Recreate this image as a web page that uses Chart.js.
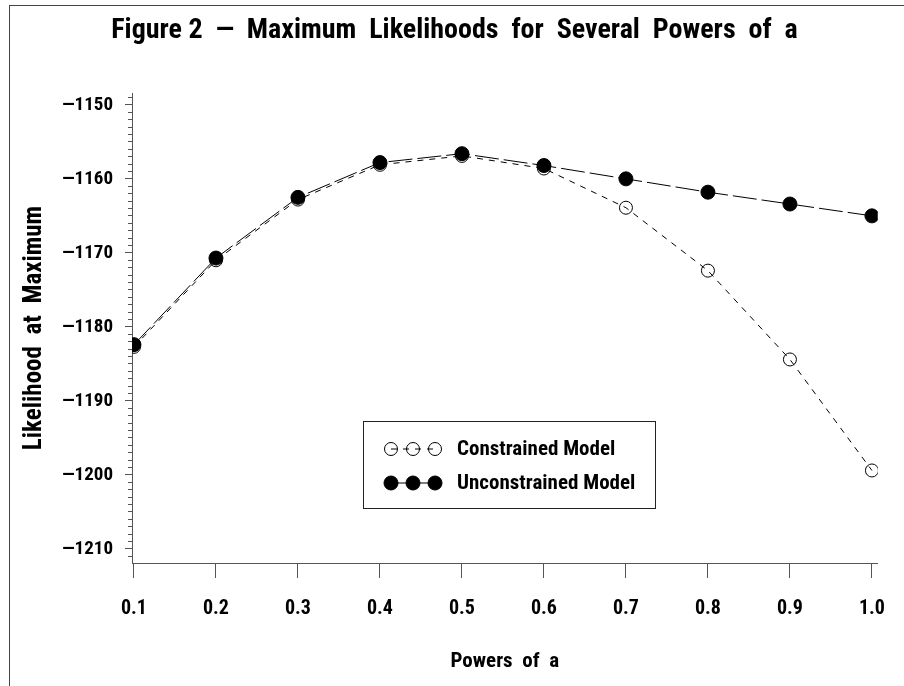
<!DOCTYPE html>
<html>
<head>
<meta charset="utf-8">
<script src="https://cdn.jsdelivr.net/npm/chart.js@4/dist/chart.umd.min.js"></script>
<style>
  html, body { margin: 0; padding: 0; background: #fff; }
  #wrap { width: 904px; height: 686px; position: relative; }
</style>
</head>
<body>
<div id="wrap"><canvas id="c" width="904" height="686"></canvas></div>
<script>
// Powers of a and the maximised log-likelihood for each model
const powers = [0.1, 0.2, 0.3, 0.4, 0.5, 0.6, 0.7, 0.8, 0.9, 1.0];
const constrained = [-1182.7, -1171.0, -1162.8, -1158.1, -1156.9, -1158.6, -1163.9, -1172.4, -1184.4, -1199.4];
const unconstrained = [-1182.4, -1170.7, -1162.5, -1157.8, -1156.6, -1158.2, -1160.0, -1161.8, -1163.4, -1165.0];

// Axis tick values and their printed labels
const xTickLabels = ['0.1', '0.2', '0.3', '0.4', '0.5', '0.6', '0.7', '0.8', '0.9', '1.0'];
const yMajorTicks = [-1150, -1160, -1170, -1180, -1190, -1200, -1210];
const yTickLabels = ['\u20141150', '\u20141160', '\u20141170', '\u20141180', '\u20141190', '\u20141200', '\u20141210'];

const seriesNames = ['Constrained Model', 'Unconstrained Model'];

const FONT = "'Roboto Condensed', 'Open Sans Condensed', 'Liberation Sans', Arial, sans-serif";
const Y_MIN = -1211.9, Y_MAX = -1148.4;

function toPoints(ys) {
  return powers.map((p, i) => ({ x: p, y: ys[i] }));
}

// whole-unit minor tick positions along the likelihood axis
const yMinorTicks = [];
for (let v = Math.ceil(Y_MIN); v <= Math.floor(Y_MAX); v++) yMinorTicks.push(v);

const styles = [
  { dash: [6, 6], radius: 6.5, fill: 'rgba(0,0,0,0)' },
  { dash: [24, 5], radius: 7, fill: '#000' }
];

// outer frame around the figure
const framePlugin = {
  id: 'frame',
  beforeDraw(chart) {
    const ctx = chart.ctx;
    ctx.save();
    ctx.strokeStyle = '#444';
    ctx.lineWidth = 1;
    ctx.strokeRect(9.5, 5.5, 1000, 1000);
    ctx.restore();
  }
};

// boxed key inside the plot, three sample markers per series
const keyPlugin = {
  id: 'boxKey',
  afterDraw(chart) {
    const ctx = chart.ctx;
    ctx.save();
    ctx.fillStyle = '#fff';
    ctx.fillRect(363.5, 421.5, 292, 87);
    ctx.strokeStyle = '#222';
    ctx.lineWidth = 1;
    ctx.strokeRect(363.5, 421.5, 292, 87);
    const rows = [449, 483];
    const xs = [391, 413, 435];
    chart.data.datasets.forEach((ds, i) => {
      const y = rows[i];
      ctx.save();
      ctx.strokeStyle = '#000';
      ctx.lineWidth = 1;
      ctx.setLineDash(ds.borderDash);
      ctx.beginPath();
      ctx.moveTo(xs[0], y);
      ctx.lineTo(xs[2], y);
      ctx.stroke();
      ctx.restore();
      xs.forEach(x => {
        ctx.fillStyle = ds.pointBackgroundColor;
        ctx.strokeStyle = '#000';
        Chart.helpers.drawPoint(ctx, {
          pointStyle: 'circle', radius: ds.pointRadius, borderWidth: 1, rotation: 0
        }, x, y);
      });
      ctx.fillStyle = '#000';
      ctx.font = 'bold 21px ' + FONT;
      ctx.textBaseline = 'middle';
      ctx.textAlign = 'left';
      ctx.fillText(ds.label, 457, y + 1);
    });
    ctx.restore();
  }
};

const datasets = [constrained, unconstrained].map((vals, i) => ({
  label: seriesNames[i],
  data: toPoints(vals),
  borderColor: '#000',
  borderWidth: 1,
  borderDash: styles[i].dash,
  pointRadius: styles[i].radius,
  pointBackgroundColor: styles[i].fill,
  pointBorderColor: '#000',
  pointBorderWidth: 1,
  tension: 0,
  fill: false
}));

new Chart(document.getElementById('c'), {
  type: 'line',
  data: { datasets },
  options: {
    responsive: false,
    animation: false,
    events: [],
    layout: { padding: { left: 10, right: 5, top: 0, bottom: 0 } },
    plugins: {
      legend: { display: false },
      tooltip: { enabled: false },
      title: {
        display: true,
        text: 'Figure 2  \u2014  Maximum  Likelihoods  for  Several  Powers  of  a',
        color: '#000',
        font: { family: FONT, size: 28, weight: 'bold', lineHeight: 1.2 },
        padding: { top: 14, bottom: 45.4 }
      }
    },
    scales: {
      x: {
        type: 'linear',
        position: 'bottom',
        min: 0.0976,
        max: 1.0071,
        afterBuildTicks: s => { s.ticks = powers.map(v => ({ value: v })); },
        afterFit: s => { s.height = 123; },
        ticks: {
          color: '#000',
          font: { family: FONT, size: 20, weight: 'bold' },
          padding: 19,
          maxRotation: 0,
          autoSkip: false,
          callback: (v, i) => xTickLabels[i]
        },
        grid: { drawOnChartArea: false, drawTicks: true, tickLength: 15, color: '#555' },
        border: { display: true, color: '#555', width: 1 },
        title: {
          display: true,
          text: 'Powers  of  a',
          color: '#000',
          font: { family: FONT, size: 21, weight: 'bold', lineHeight: 1.2 },
          padding: { top: 0, bottom: 12 }
        }
      },
      y: {
        type: 'linear',
        position: 'left',
        weight: 1,
        min: Y_MIN,
        max: Y_MAX,
        afterBuildTicks: s => { s.ticks = yMajorTicks.map(v => ({ value: v })); },
        afterFit: s => { s.width = 122; },
        ticks: {
          color: '#000',
          font: { family: FONT, size: 19, weight: 'bold' },
          padding: 12,
          autoSkip: false,
          callback: (v, i) => yTickLabels[i]
        },
        grid: { drawOnChartArea: false, drawTicks: true, tickLength: 7, color: '#555' },
        border: { display: true, color: '#555', width: 1 },
        title: {
          display: true,
          text: 'Likelihood  at  Maximum',
          color: '#000',
          font: { family: FONT, size: 25, weight: 'bold', lineHeight: 1.2 },
          padding: { top: 10, bottom: 0 }
        }
      },
      yMinor: {
        type: 'linear',
        position: 'left',
        weight: 0,
        min: Y_MIN,
        max: Y_MAX,
        afterBuildTicks: s => { s.ticks = yMinorTicks.map(v => ({ value: v })); },
        afterFit: s => { s.width = 0; },
        ticks: { display: false },
        grid: { drawOnChartArea: false, drawTicks: true, tickLength: 4, color: '#555' },
        border: { display: false }
      }
    }
  },
  plugins: [framePlugin, keyPlugin]
});
</script>
</body>
</html>
